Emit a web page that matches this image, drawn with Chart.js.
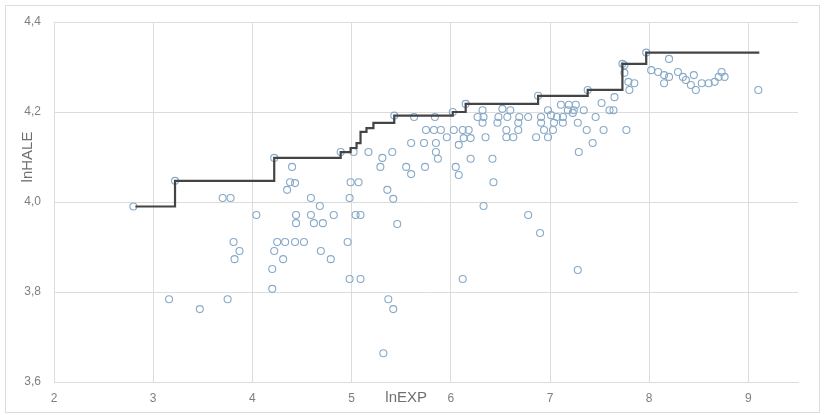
<!DOCTYPE html>
<html>
<head>
<meta charset="utf-8">
<script src="https://cdn.jsdelivr.net/npm/chart.js@4/dist/chart.umd.min.js"></script>
<style>
  body { margin: 0; background: #fff; }
  #wrap { position: relative; width: 824px; height: 415px; }
</style>
</head>
<body>
<div id="wrap"><canvas id="chart"></canvas></div>
<script>
'use strict';

// frontier (step line)
var frontierX = [2.82, 3.22, 4.22, 4.89, 4.99, 5.05, 5.09, 5.15, 5.22, 5.43, 6.02, 6.15, 6.88, 7.38, 7.73, 7.97, 9.11];
var frontierY = [3.99, 4.047, 4.098, 4.111, 4.12, 4.131, 4.156, 4.164, 4.176, 4.192, 4.2, 4.218, 4.236, 4.249, 4.307, 4.332, 4.332];

// countries: lnEXP / lnHALE
var expX = [
    2.80, 3.16, 3.47, 3.75, 3.70, 3.78, 4.04, 3.81, 3.87, 3.82,
    4.20, 4.20, 4.22, 4.25, 4.33, 4.43, 4.52, 4.31, 4.44, 4.44,
    4.59, 4.62, 4.71, 4.59, 4.68, 4.69, 4.79, 4.35, 4.43, 4.40,
    4.38, 4.82, 4.96, 4.99, 5.07, 4.98, 5.04, 5.09, 5.46, 5.36,
    5.42, 5.17, 5.02, 5.31, 5.29, 5.41, 5.55, 5.60, 5.74, 5.60,
    5.73, 5.75, 5.83, 5.90, 5.85, 5.85, 5.87, 5.63, 5.84, 4.98,
    5.09, 6.12, 5.37, 5.42, 5.32, 3.22, 4.22, 4.89, 5.43, 6.02,
    6.15, 6.88, 7.38, 7.73, 7.97, 6.03, 6.12, 6.18, 6.13, 6.20,
    6.08, 6.05, 6.08, 6.20, 6.42, 6.43, 6.33, 6.78, 6.90, 7.28,
    7.29, 7.43, 7.54, 7.37, 6.27, 6.33, 6.48, 6.57, 6.69, 6.78,
    6.32, 6.32, 6.47, 6.68, 6.35, 6.56, 6.63, 6.56, 6.68, 6.86,
    6.98, 6.91, 7.04, 7.13, 6.94, 7.03, 6.91, 6.98, 7.11, 7.19,
    7.26, 7.18, 7.24, 7.34, 7.13, 7.23, 7.28, 7.46, 7.52, 7.60,
    7.65, 7.64, 5.96, 6.52, 6.60, 7.01, 7.07, 8.20, 7.77, 9.10,
    7.75, 7.75, 7.79, 7.80, 7.85, 8.02, 8.09, 8.15, 8.15, 8.20,
    8.29, 8.34, 8.37, 8.42, 8.47, 8.45, 8.53, 8.60, 8.66, 8.70,
    8.73, 8.76
];
var haleY = [
    3.990, 3.784, 3.762, 3.784, 4.009, 4.009, 3.971, 3.911, 3.891, 3.873,
    3.851, 3.807, 3.891, 3.911, 3.911, 3.911, 3.911, 3.873, 3.971, 3.953,
    3.971, 3.953, 3.953, 4.009, 3.991, 3.891, 3.873, 4.027, 4.042, 4.078,
    4.044, 3.971, 3.911, 4.044, 4.044, 4.009, 3.971, 3.971, 3.951, 4.027,
    4.007, 4.111, 4.111, 4.098, 4.078, 4.111, 4.078, 4.062, 4.078, 4.131,
    4.131, 4.160, 4.160, 4.160, 4.131, 4.111, 4.096, 4.189, 4.189, 3.829,
    3.829, 3.829, 3.784, 3.762, 3.664, 4.047, 4.098, 4.111, 4.192, 4.200,
    4.218, 4.236, 4.249, 4.307, 4.332, 4.160, 4.160, 4.160, 4.142, 4.142,
    4.127, 4.078, 4.060, 4.096, 4.096, 4.044, 3.991, 3.971, 3.931, 3.849,
    4.111, 4.131, 4.160, 4.160, 4.189, 4.189, 4.189, 4.189, 4.189, 4.189,
    4.204, 4.176, 4.176, 4.176, 4.144, 4.144, 4.144, 4.160, 4.160, 4.144,
    4.144, 4.176, 4.176, 4.176, 4.160, 4.160, 4.189, 4.204, 4.216, 4.216,
    4.216, 4.204, 4.204, 4.204, 4.189, 4.198, 4.176, 4.189, 4.220, 4.204,
    4.233, 4.204, 4.144, 4.207, 4.204, 4.193, 4.189, 4.318, 4.160, 4.249,
    4.304, 4.287, 4.267, 4.249, 4.264, 4.293, 4.289, 4.282, 4.264, 4.278,
    4.289, 4.278, 4.271, 4.260, 4.249, 4.282, 4.264, 4.264, 4.267, 4.278,
    4.289, 4.278
];

var xTicks = [2, 3, 4, 5, 6, 7, 8, 9];
var yTicks = [3.6, 3.8, 4.0, 4.2, 4.4];
var xTitle = 'lnEXP';
var yTitle = 'lnHALE';

function toPoints(xs, ys) {
    return xs.map(function (x, i) { return { x: x, y: ys[i] }; });
}

var labelColor = '#7f7f7f';
var gridColor = '#dcdcdc';

// frame around the chart + axis titles placed like the original
var decorations = {
    id: 'decorations',
    beforeDraw: function (chart) {
        var ctx = chart.ctx;
        ctx.save();
        ctx.strokeStyle = gridColor;
        ctx.lineWidth = 1;
        ctx.strokeRect(5.5, 5.5, 814, 407);
        ctx.restore();
    },
    afterDraw: function (chart) {
        var ctx = chart.ctx,
            xs = chart.scales.x,
            ys = chart.scales.y;
        ctx.save();
        ctx.fillStyle = '#6f6f6f';
        ctx.font = '15px "Liberation Sans", Arial, sans-serif';
        ctx.textAlign = 'center';
        ctx.textBaseline = 'middle';
        ctx.fillText(xTitle, xs.getPixelForValue(5.55), 398);
        ctx.translate(28, ys.getPixelForValue(4.10));
        ctx.rotate(-Math.PI / 2);
        ctx.fillText(yTitle, 0, 0);
        ctx.restore();
    }
};

new Chart(document.getElementById('chart').getContext('2d'), {
    type: 'scatter',
    data: {
        datasets: [{
            type: 'line',
            label: 'frontier',
            data: toPoints(frontierX, frontierY),
            stepped: true,
            borderColor: '#444444',
            borderWidth: 2.2,
            pointRadius: 0,
            fill: false,
            order: 0
        }, {
            label: 'countries',
            data: toPoints(expX, haleY),
            pointRadius: 3.5,
            pointBorderWidth: 1.1,
            pointBackgroundColor: 'rgba(255,255,255,0)',
            pointBorderColor: '#88a9c7',
            order: 1
        }]
    },
    options: {
        responsive: true,
        maintainAspectRatio: false,
        animation: false,
        layout: { padding: { left: 0, top: 22, right: 26, bottom: 0 } },
        plugins: {
            legend: { display: false },
            tooltip: { enabled: false }
        },
        scales: {
            x: {
                type: 'linear',
                min: 2,
                max: 9.5,
                afterBuildTicks: function (scale) {
                    scale.ticks = xTicks.map(function (v) { return { value: v }; });
                },
                afterFit: function (scale) { scale.height = 33; },
                grid: { color: gridColor, drawTicks: false },
                border: { color: gridColor },
                ticks: {
                    color: labelColor,
                    padding: 9,
                    font: { size: 12, family: '"Liberation Sans", Arial, sans-serif' }
                }
            },
            y: {
                type: 'linear',
                min: 3.6,
                max: 4.4,
                afterBuildTicks: function (scale) {
                    scale.ticks = yTicks.map(function (v) { return { value: v }; });
                },
                afterFit: function (scale) { scale.width = 54; },
                grid: { color: gridColor, drawTicks: false },
                border: { color: gridColor },
                ticks: {
                    color: labelColor,
                    padding: 13,
                    font: { size: 12, family: '"Liberation Sans", Arial, sans-serif' },
                    callback: function (v) { return v.toFixed(1).replace('.', ','); }
                }
            }
        }
    },
    plugins: [decorations]
});
</script>
</body>
</html>
